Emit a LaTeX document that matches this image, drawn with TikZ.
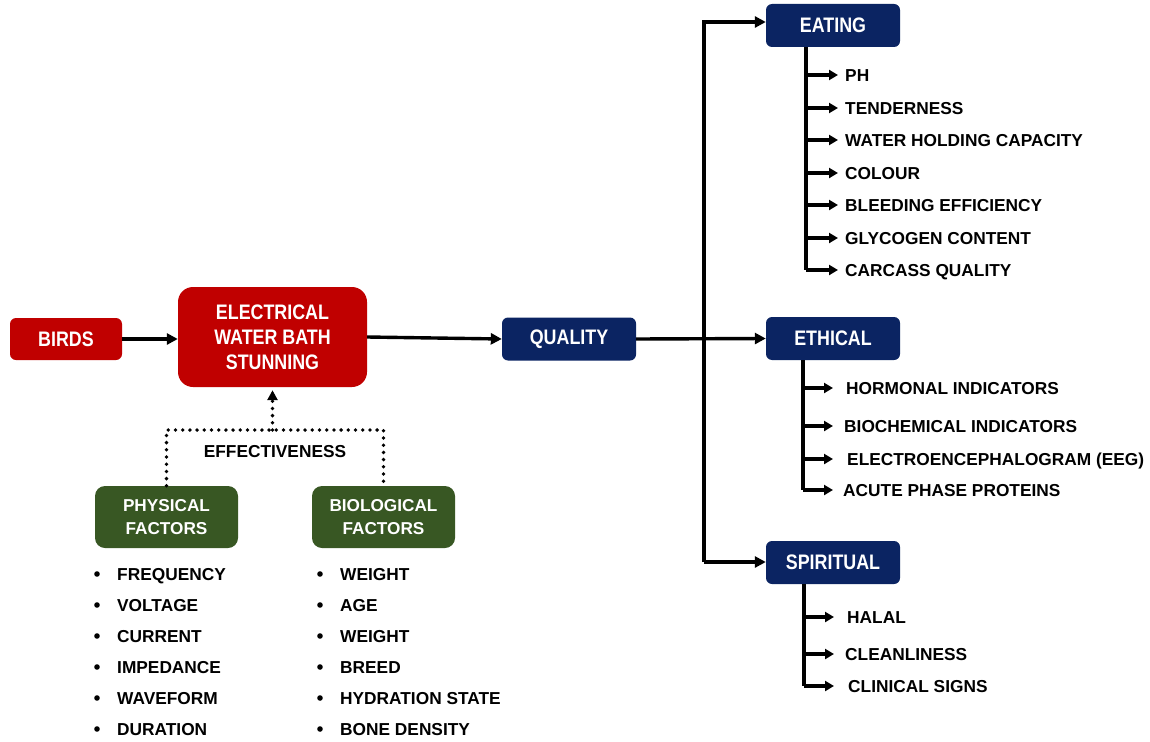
\documentclass[tikz,border=0pt]{standalone}
\usepackage{fontspec}
\setmainfont{Liberation Sans}
\newfontfamily\boxfont[FakeStretch=0.85]{Liberation Sans}
\usetikzlibrary{arrows.meta}
\definecolor{ewred}{HTML}{C00000}
\definecolor{ewnavy}{HTML}{0B2462}
\definecolor{ewgreen}{HTML}{385723}

\begin{document}
\begin{tikzpicture}[x=1pt,y=-1pt,
    box/.style={rounded corners=6pt, text=white, align=center, inner sep=0pt,
        font=\boxfont\bfseries\fontsize{21}{25}\selectfont},
    redbox/.style={box, fill=ewred, minimum width=112pt, minimum height=42pt},
    bluebox/.style={box, fill=ewnavy, minimum width=134pt, minimum height=43pt},
    greenbox/.style={box, fill=ewgreen, rounded corners=10pt, minimum width=143pt,
        minimum height=62pt, font=\bfseries\fontsize{17.2}{23}\selectfont},
    item/.style={anchor=west, inner sep=0pt, text height=12.4pt, text depth=0pt,
        font=\bfseries\fontsize{17.3}{20}\selectfont},
    conn/.style={line width=3.4pt},
    arr/.style={conn, -{Triangle[length=11pt,width=11pt]}},
    subarr/.style={conn, -{Triangle[length=9pt,width=10pt]}},
    dotline/.style={line width=3.8pt, line cap=round, dash pattern=on 0pt off 7.2pt},
]
    \useasboundingbox (0,0) rectangle (1150,741);

    % main chain
    \node[redbox] (birds) at (66,339) {BIRDS};
    \node[redbox, rounded corners=15pt, minimum width=189pt, minimum height=100pt] (ewbs) at (272.5,337)
        {ELECTRICAL\\WATER BATH\\STUNNING};
    \node[bluebox] (quality) at (569,339) {QUALITY};
    \draw[arr] (birds) -- (ewbs.west |- birds);
    \draw[arr] (ewbs.east) -- (quality.west);

    % quality branches
    \node[bluebox] (eating) at (833,25.5) {EATING};
    \node[bluebox] (ethical) at (833,338.5) {ETHICAL};
    \node[bluebox] (spiritual) at (833,562.5) {SPIRITUAL};
    \coordinate (trunktop) at (704,22);
    \coordinate (trunkbot) at (704,562);
    \draw[arr] (trunkbot) -- (trunktop) -- (eating.west |- trunktop);
    \draw[arr] (trunkbot) -- (spiritual.west |- trunkbot);
    \draw[arr] (quality.east) -- (ethical.west);

    % eating
    \coordinate (eatspine) at (806,47);
    \foreach \i/\y/\txt in {1/75/PH, 2/108/TENDERNESS, 3/140/WATER HOLDING CAPACITY, 4/173/COLOUR,
            5/205/BLEEDING EFFICIENCY, 6/238/GLYCOGEN CONTENT, 7/270/CARCASS QUALITY} {
        \node[item] (e\i) at (845,\y) {\txt};
        \draw[subarr] (eatspine |- e\i.west) -- ([xshift=-7pt]e\i.west);
    }
    \draw[conn] (eatspine) -- (eatspine |- e7.west);

    % ethical
    \coordinate (ethspine) at (803,360);
    \foreach \i/\x/\y/\txt in {1/846/388/HORMONAL INDICATORS, 2/844/426/BIOCHEMICAL INDICATORS,
            3/847/459/ELECTROENCEPHALOGRAM (EEG), 4/843/490/ACUTE PHASE PROTEINS} {
        \node[item] (h\i) at (\x,\y) {\txt};
        \draw[subarr] (ethspine |- h\i.west) -- (833,0 |- h\i.west);
    }
    \draw[conn] (ethspine) -- (ethspine |- h4.west);

    % spiritual
    \coordinate (spispine) at (804,584);
    \foreach \i/\x/\y/\txt in {1/847/617/HALAL, 2/845/654/CLEANLINESS, 3/848/686/CLINICAL SIGNS} {
        \node[item] (s\i) at (\x,\y) {\txt};
        \draw[subarr] (spispine |- s\i.west) -- (834,0 |- s\i.west);
    }
    \draw[conn] (spispine) -- (spispine |- s3.west);

    % factors
    \node[greenbox] (physical) at (166.5,517) {PHYSICAL\\FACTORS};
    \node[greenbox] (biological) at (383.5,517) {BIOLOGICAL\\FACTORS};
    \coordinate (efftop) at (272.5,430);
    \draw[dotline] (physical.north) |- (efftop) -| (biological.north);
    \draw[dotline, shorten >=3pt, -{Triangle[length=10pt,width=10pt]}] (efftop) -- (ewbs.south);
    \node[item, anchor=center] (effect) at (275,451) {EFFECTIVENESS};

    \foreach \i/\y/\txt in {1/574/FREQUENCY, 2/605/VOLTAGE, 3/636/CURRENT, 4/667/IMPEDANCE,
            5/698/WAVEFORM, 6/729/DURATION} {
        \node[item] (p\i) at (117,\y) {\txt};
        \fill (97,0 |- p\i.west) circle (2.8pt);
    }
    \foreach \i/\y/\txt in {1/574/WEIGHT, 2/605/AGE, 3/636/WEIGHT, 4/667/BREED,
            5/698/HYDRATION STATE, 6/729/BONE DENSITY} {
        \node[item] (b\i) at (340,\y) {\txt};
        \fill (320,0 |- b\i.west) circle (2.8pt);
    }
\end{tikzpicture}
\end{document}
